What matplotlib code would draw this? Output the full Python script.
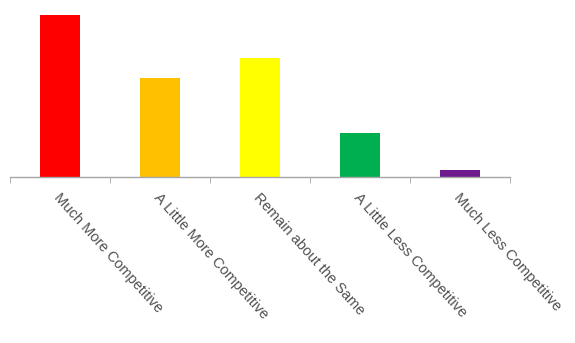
import matplotlib
matplotlib.use("Agg")
import matplotlib.pyplot as plt
import matplotlib.transforms as mtransforms

categories = ["Much More Competitive", "A Little More Competitive",
              "Remain about the Same", "A Little Less Competitive",
              "Much Less Competitive"]
values = [37.6, 23.0, 27.6, 10.2, 1.6]
colors = ["#ff0000", "#ffc000", "#ffff00", "#00b050", "#6e1a8c"]

plt.rcParams['font.family'] = ['Liberation Sans', 'DejaVu Sans']

fig = plt.figure(figsize=(5.75, 3.43), dpi=100)
# axes box in pixels: x 10..510, baseline at y=177 from top
ax = fig.add_axes([10/575, 166/343, 500/575, 172/343])

x = list(range(len(categories)))
ax.bar(x, values, width=0.4, color=colors)
ax.set_xlim(-0.5, 4.5)
ax.set_ylim(0, 40)

for s in ['top', 'right', 'left']:
    ax.spines[s].set_visible(False)
ax.spines['bottom'].set_color('#a6a6a6')
ax.spines['bottom'].set_linewidth(1.0)
ax.set_yticks([])

# category labels at bar centres, tick marks at boundaries
ax.set_xticks(x)
ax.set_xticklabels(categories, rotation=-48, ha='left', va='top',
                   rotation_mode='anchor', fontsize=10.5, color='#505050')
ax.tick_params(axis='x', which='major', length=0, pad=10)
ax.set_xticks([i - 0.5 for i in range(len(categories) + 1)], minor=True)
ax.tick_params(axis='x', which='minor', length=4, color='#a6a6a6', direction='out')

offset = mtransforms.ScaledTranslation(1/100, 0, fig.dpi_scale_trans)
for lbl in ax.get_xticklabels():
    lbl.set_transform(lbl.get_transform() + offset)

fig.savefig("out.png", dpi=100)
